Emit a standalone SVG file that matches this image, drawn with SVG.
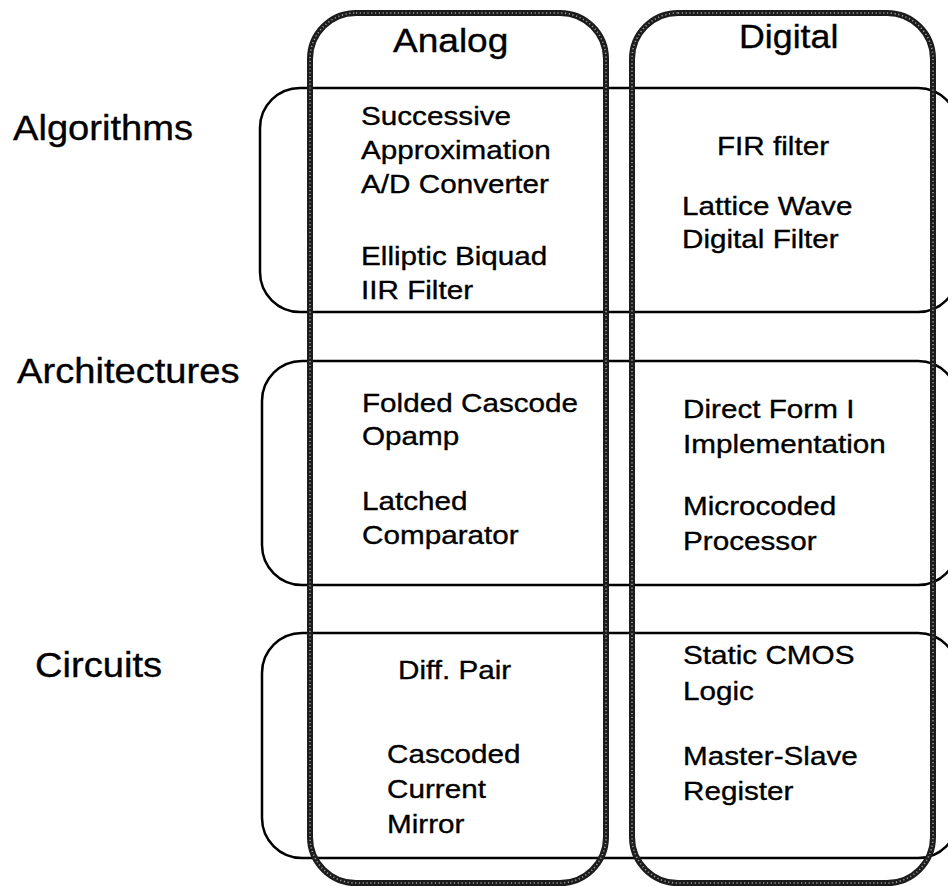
<svg xmlns="http://www.w3.org/2000/svg" width="948" height="886" viewBox="0 0 948 886">
  <style>
    .row { fill: none; stroke: #000; stroke-width: 2.5; }
    .col { fill: none; stroke: #1c1c1c; stroke-width: 6; }
    .grain { fill: none; stroke: #9a9a9a; stroke-width: 1.6; stroke-dasharray: 1.2 2.6; }
    text { font-family: "Liberation Sans", Arial, Helvetica, sans-serif; fill: #000; stroke: #000; stroke-width: 0.35; }
    .head { font-size: 32.5px; }
    .side { font-size: 35px; }
    .item { font-size: 26.5px; }
  </style>

  <rect width="948" height="886" fill="#fff"/>

  <!-- level bands (rows) -->
  <g id="row-algorithms">
    <rect class="row" x="260" y="88" width="698" height="224" rx="40" ry="40"/>
    <text class="side" transform="translate(13,140) scale(1.09,1)">Algorithms</text>
  </g>
  <g id="row-architectures">
    <rect class="row" x="262" y="361" width="696" height="224" rx="40" ry="40"/>
    <text class="side" transform="translate(17,383) scale(1.09,1)">Architectures</text>
  </g>
  <g id="row-circuits">
    <rect class="row" x="262" y="633" width="696" height="225" rx="40" ry="40"/>
    <text class="side" transform="translate(35,677) scale(1.09,1)">Circuits</text>
  </g>

  <!-- domain columns, drawn over the bands -->
  <g id="col-analog">
    <rect class="col" x="310" y="13" width="296" height="870" rx="46" ry="46"/>
    <rect class="grain" x="310" y="13" width="296" height="870" rx="46" ry="46"/>
    <text class="head" transform="translate(393,52) scale(1.14,1)">Analog</text>
  </g>
  <g id="col-digital">
    <rect class="col" x="632" y="13" width="301" height="870" rx="46" ry="46"/>
    <rect class="grain" x="632" y="13" width="301" height="870" rx="46" ry="46"/>
    <text class="head" transform="translate(739,48) scale(1.1,1)">Digital</text>
  </g>

  <!-- cell contents -->
  <g id="cell-analog-algorithms">
    <text class="item" transform="translate(361,125) scale(1.12,1)">Successive</text>
    <text class="item" transform="translate(361,159) scale(1.12,1)">Approximation</text>
    <text class="item" transform="translate(361,193) scale(1.12,1)">A/D Converter</text>
    <text class="item" transform="translate(361,265) scale(1.12,1)">Elliptic Biquad</text>
    <text class="item" transform="translate(361,299) scale(1.12,1)">IIR Filter</text>
  </g>
  <g id="cell-digital-algorithms">
    <text class="item" transform="translate(717,155) scale(1.12,1)">FIR filter</text>
    <text class="item" transform="translate(682,215) scale(1.12,1)">Lattice Wave</text>
    <text class="item" transform="translate(682,248) scale(1.12,1)">Digital Filter</text>
  </g>
  <g id="cell-analog-architectures">
    <text class="item" transform="translate(362,412) scale(1.12,1)">Folded Cascode</text>
    <text class="item" transform="translate(362,445) scale(1.12,1)">Opamp</text>
    <text class="item" transform="translate(362,510) scale(1.12,1)">Latched</text>
    <text class="item" transform="translate(362,544) scale(1.12,1)">Comparator</text>
  </g>
  <g id="cell-digital-architectures">
    <text class="item" transform="translate(683,418) scale(1.12,1)">Direct Form I</text>
    <text class="item" transform="translate(683,453) scale(1.12,1)">Implementation</text>
    <text class="item" transform="translate(683,515) scale(1.12,1)">Microcoded</text>
    <text class="item" transform="translate(683,550) scale(1.12,1)">Processor</text>
  </g>
  <g id="cell-analog-circuits">
    <text class="item" transform="translate(398,679) scale(1.12,1)">Diff. Pair</text>
    <text class="item" transform="translate(387,763) scale(1.12,1)">Cascoded</text>
    <text class="item" transform="translate(387,798) scale(1.12,1)">Current</text>
    <text class="item" transform="translate(387,833) scale(1.12,1)">Mirror</text>
  </g>
  <g id="cell-digital-circuits">
    <text class="item" transform="translate(683,664) scale(1.12,1)">Static CMOS</text>
    <text class="item" transform="translate(683,700) scale(1.12,1)">Logic</text>
    <text class="item" transform="translate(683,765) scale(1.12,1)">Master-Slave</text>
    <text class="item" transform="translate(683,800) scale(1.12,1)">Register</text>
  </g>

  <!-- connectors: none in this chart -->
  <g id="connectors"/>
</svg>
